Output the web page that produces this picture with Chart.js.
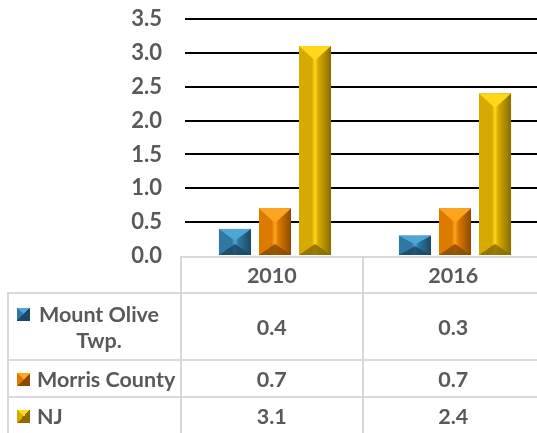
<!DOCTYPE html>
<html>
<head>
<meta charset="utf-8">
<script src="https://cdn.jsdelivr.net/npm/chart.js@4.4.1/dist/chart.umd.min.js"></script>
<style>
html, body { margin: 0; padding: 0; overflow: hidden; background: #fff; width: 537px; height: 433px; }
#wrap { position: relative; width: 545px; height: 433px; font-family: Lato, "Open Sans", sans-serif; font-weight: bold; color: #595959; font-size: 21.5px; }
#chart { position: absolute; left: 0; top: 0; }
#dataTable { position: absolute; left: 7px; top: 256px; border-collapse: collapse; table-layout: fixed; }
#dataTable td { border: 2px solid #d9d9d9; padding: 0; text-align: center; vertical-align: middle; }
#dataTable td.blank { border-top: none; border-left: none; }
#dataTable td.label { text-align: left; }
.lab { display: flex; align-items: flex-start; padding-left: 8px; line-height: 26px; }
.key { flex: none; width: 13px; height: 13px; margin: 7px 7px 0 0; }
.txt { text-align: center; }
</style>
</head>
<body>
<div id="wrap">
  <canvas id="chart" width="545" height="275"></canvas>
  <table id="dataTable"></table>
</div>
<script>
const categories = ['2010', '2016'];
const seriesNames = ['Mount Olive Twp.', 'Morris County', 'NJ'];
const mountOlive = [0.4, 0.3];
const morrisCounty = [0.7, 0.7];
const nj = [3.1, 2.4];
const yTicks = [0, 0.5, 1.0, 1.5, 2.0, 2.5, 3.0, 3.5];

const seriesValues = [mountOlive, morrisCounty, nj];
// mid, light, dark shades for the bevelled bars
const shades = [
    {mid: '#2f78a4', light: '#4fa6d6', dark: '#1b4866'},
    {mid: '#dd7a00', light: '#ffa41f', dark: '#8a4b00'},
    {mid: '#d6aa00', light: '#ffd81a', dark: '#8a6c00'}
];
// max width of each legend label in the table (first one wraps)
const labelMaxWidth = [124, 160, 160];

const bevelPlugin = {
    id: 'bevel',
    afterDatasetsDraw(chart) {
        const ctx = chart.ctx;
        chart.data.datasets.forEach((ds, i) => {
            const meta = chart.getDatasetMeta(i);
            const sh = shades[i];
            meta.data.forEach(bar => {
                const p = bar.getProps(['x', 'y', 'base', 'width'], true);
                const l = p.x - p.width / 2, r = p.x + p.width / 2;
                const t = Math.min(p.y, p.base), b = Math.max(p.y, p.base);
                const d = Math.min(p.width / 2, (b - t) / 2) * 0.9;
                ctx.save();
                const g = ctx.createLinearGradient(l, 0, r, 0);
                g.addColorStop(0, sh.mid);
                g.addColorStop(0.4, sh.mid);
                g.addColorStop(0.5, sh.light);
                g.addColorStop(0.6, sh.mid);
                g.addColorStop(1, sh.dark);
                ctx.fillStyle = g;
                ctx.fillRect(l, t, r - l, b - t);
                // top facet
                ctx.fillStyle = sh.light;
                ctx.beginPath();
                ctx.moveTo(l, t); ctx.lineTo(r, t); ctx.lineTo(p.x, t + d); ctx.closePath();
                ctx.fill();
                // bottom facet
                const db = Math.min(d, 11);
                ctx.globalAlpha = 0.85;
                ctx.fillStyle = sh.dark;
                ctx.beginPath();
                ctx.moveTo(l, b); ctx.lineTo(r, b); ctx.lineTo(p.x, b - db); ctx.closePath();
                ctx.fill();
                ctx.restore();
            });
        });
    }
};

new Chart(document.getElementById('chart'), {
    type: 'bar',
    data: {
        labels: categories,
        datasets: seriesNames.map((name, i) => ({
            label: name,
            data: seriesValues[i],
            backgroundColor: shades[i].mid,
            categoryPercentage: 0.667,
            barPercentage: 0.8
        }))
    },
    options: {
        responsive: false,
        animation: false,
        layout: {padding: {top: 19, bottom: 19, right: 0, left: 0}},
        plugins: {legend: {display: false}, tooltip: {enabled: false}},
        scales: {
            x: {display: false, offset: true},
            y: {
                min: 0,
                max: 3.5,
                afterBuildTicks: s => { s.ticks = yTicks.map(v => ({value: v})); },
                afterFit: s => { s.width = 185; },
                border: {display: false},
                grid: {
                    drawTicks: true,
                    tickLength: 23,
                    tickColor: 'rgba(0,0,0,0)',
                    lineWidth: 2,
                    color: c => c.tick && c.tick.value > 0 ? '#000' : 'rgba(0,0,0,0)'
                },
                ticks: {
                    padding: 0,
                    color: '#595959',
                    font: {family: 'Lato', weight: 'bold', size: 22},
                    callback: v => Number(v).toFixed(1)
                }
            }
        }
    },
    plugins: [bevelPlugin]
});

// data table under the plot
const table = document.getElementById('dataTable');
const colWidths = [174, 183, 183];
const rowHeights = [36, 67, 37, 37];
let html = '<colgroup>' + colWidths.map(w => `<col style="width:${w}px">`).join('') + '</colgroup>';
html += `<tr style="height:${rowHeights[0]}px"><td class="blank"></td>` +
    categories.map(c => `<td>${c}</td>`).join('') + '</tr>';
seriesNames.forEach((name, i) => {
    const sh = shades[i];
    const key = `<span class="key" style="background: conic-gradient(from -45deg, ${sh.light} 0 25%, ${sh.dark} 25% 50%, ${sh.dark} 50% 75%, ${sh.mid} 75%)"></span>`;
    html += `<tr style="height:${rowHeights[i + 1]}px"><td class="label"><div class="lab">${key}` +
        `<span class="txt" style="max-width:${labelMaxWidth[i]}px">${name}</span></div></td>` +
        seriesValues[i].map(v => `<td>${v.toFixed(1)}</td>`).join('') + '</tr>';
});
table.innerHTML = html;
</script>
</body>
</html>
